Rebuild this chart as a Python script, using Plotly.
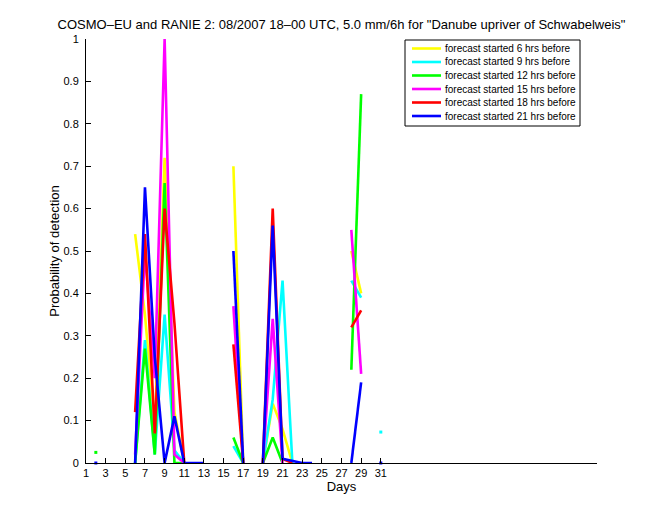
import plotly.graph_objects as go

N = None
days = list(range(1, 32))
x_ticks = list(range(1, 32, 2))
y_ticks = [0, 0.1, 0.2, 0.3, 0.4, 0.5, 0.6, 0.7, 0.8, 0.9, 1]
y_tick_labels = ["0", "0.1", "0.2", "0.3", "0.4", "0.5", "0.6", "0.7", "0.8", "0.9", "1"]

series_names = [
    "forecast started 6 hrs before",
    "forecast started 9 hrs before",
    "forecast started 12 hrs before",
    "forecast started 15 hrs before",
    "forecast started 18 hrs before",
    "forecast started 21 hrs before",
]
series_colors = ["#FFFF00", "#00FFFF", "#00FF00", "#FF00FF", "#FF0000", "#0000FF"]

fc_6h = [N, N, N, N, N, 0.54, 0.35, 0.08, 0.72, 0.12, 0, N, N, N, N, 0.70, 0, N,
         0, 0.14, 0.08, 0, N, N, N, N, N, 0.50, 0.40, N, N]
fc_9h = [N, N, N, N, N, 0.0, 0.29, 0.02, 0.35, 0.03, 0, N, N, N, N, 0.04, 0, N,
         0, 0.15, 0.43, 0, N, N, N, N, N, 0.43, 0.39, N, 0.073]
fc_12h = [N, 0.025, N, N, N, 0.0, 0.27, 0.02, 0.66, 0, 0, N, N, N, N, 0.06, 0, N,
          0, 0.06, 0, N, N, N, N, N, N, 0.22, 0.87, N, N]
fc_15h = [N, N, N, N, N, 0.02, 0.5, 0.2, 1.0, 0.02, 0, N, N, N, N, 0.37, 0, N,
          0, 0.34, 0, N, N, N, N, N, N, 0.55, 0.21, N, N]
fc_18h = [N, N, N, N, N, 0.12, 0.54, 0.07, 0.6, 0.33, 0, N, N, N, N, 0.28, 0, N,
          0, 0.6, 0.01, 0, N, N, N, N, N, 0.32, 0.36, N, N]
fc_21h = [N, 0, N, N, N, 0, 0.65, 0.25, 0, 0.11, 0, 0, 0, N, N, 0.5, 0, N,
          0, 0.56, 0.01, 0.005, 0, 0, N, N, N, 0, 0.19, N, 0]

all_series = [fc_6h, fc_9h, fc_12h, fc_15h, fc_18h, fc_21h]

# plot-area geometry in pixels (for legend placement)
W, H = 660, 520
L, R, T, B = 86, 597, 39, 463


def px(xp):
    return (xp - L) / (R - L)


def py(yp):
    return (B - yp) / (B - T)


fig = go.Figure()
for name, col, vals in zip(series_names, series_colors, all_series):
    fig.add_trace(go.Scatter(x=days, y=vals, mode="lines", name=name,
                             line=dict(color=col, width=2.6), showlegend=False,
                             connectgaps=False))
    # isolated points (no neighbours) are shown as dots
    iso_x, iso_y = [], []
    for i, v in enumerate(vals):
        if v is None:
            continue
        prev_none = i == 0 or vals[i - 1] is None
        next_none = i == len(vals) - 1 or vals[i + 1] is None
        if prev_none and next_none:
            iso_x.append(days[i])
            iso_y.append(v)
    if iso_x:
        fig.add_trace(go.Scatter(x=iso_x, y=iso_y, mode="markers", showlegend=False,
                                 marker=dict(color=col, size=3, symbol="square"),
                                 cliponaxis=False))

font_family = "Liberation Sans, Arial, Helvetica, sans-serif"

shapes = []
annotations = []
# legend box
shapes.append(dict(type="rect", xref="paper", yref="paper",
                   x0=px(405), x1=px(580), y0=py(126), y1=py(40),
                   line=dict(color="black", width=1), fillcolor="white", layer="above"))
row_y = [48.5, 62, 75.5, 89, 102.5, 116]
for name, col, yy in zip(series_names, series_colors, row_y):
    shapes.append(dict(type="line", xref="paper", yref="paper",
                       x0=px(412), x1=px(441), y0=py(yy), y1=py(yy),
                       line=dict(color=col, width=2.6), layer="above"))
    annotations.append(dict(text=name, xref="paper", yref="paper",
                            x=px(443), y=py(yy), xanchor="left", yanchor="middle",
                            showarrow=False, font=dict(size=10, color="black", family=font_family)))

fig.update_layout(
    width=W, height=H,
    margin=dict(l=L, r=W - R, t=T, b=H - B, pad=0),
    paper_bgcolor="white", plot_bgcolor="white",
    font=dict(family=font_family, color="black", size=11),
    title=dict(text='COSMO–EU and RANIE 2: 08/2007 18–00 UTC, 5.0 mm/6h for "Danube upriver of Schwabelweis"',
               x=0.5, xref="paper", xanchor="center", y=1 - 24 / H, yref="container",
               yanchor="middle", font=dict(size=13, family=font_family, color="black")),
    xaxis=dict(range=[1, 53], tickvals=x_ticks, ticktext=[str(t) for t in x_ticks],
               showgrid=False, zeroline=False, showline=True, linecolor="black", linewidth=1,
               ticks="inside", ticklen=5, tickcolor="black", tickfont=dict(size=11),
               title=dict(text="Days", font=dict(size=13), standoff=2)),
    yaxis=dict(range=[0, 1], tickvals=y_ticks, ticktext=y_tick_labels,
               showgrid=False, zeroline=False, showline=True, linecolor="black", linewidth=1,
               ticks="inside", ticklen=5, tickcolor="black", tickfont=dict(size=11),
               ticklabelstandoff=4,
               title=dict(text="Probability of detection", font=dict(size=13), standoff=0)),
    shapes=shapes,
    annotations=annotations,
    showlegend=False,
)

fig.write_html("out.html")
